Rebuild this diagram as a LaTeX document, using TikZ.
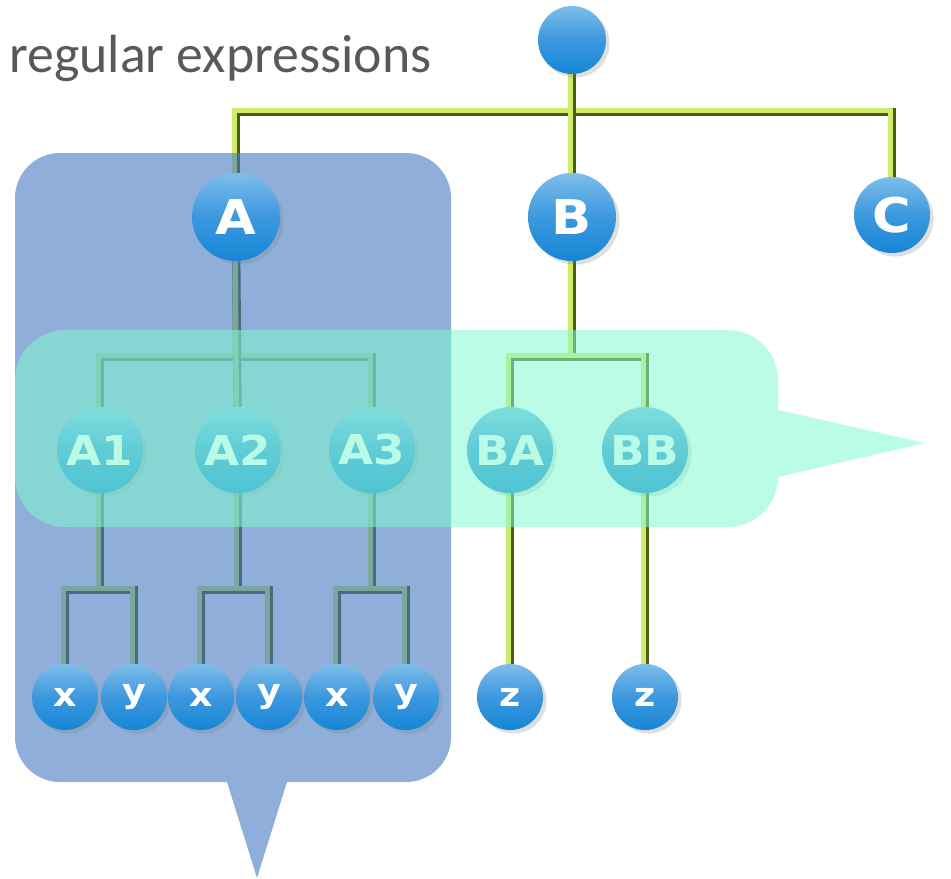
\documentclass[tikz,border=0pt]{standalone}
\usepackage{fontspec}
\setsansfont{Carlito}
\newfontfamily\ballfont{DejaVu Sans}[FakeStretch=1.1]
\usepackage{tikz}
\usetikzlibrary{shadows}
\definecolor{ballhi}{RGB}{125,190,234}
\definecolor{ballmid}{RGB}{60,152,222}
\definecolor{balllo}{RGB}{22,134,214}
\definecolor{wirelime}{RGB}{205,236,105}
\definecolor{wiredark}{RGB}{78,92,24}
\definecolor{boxblue}{RGB}{68,120,193}
\definecolor{boxteal}{RGB}{128,249,208}
\definecolor{caption}{RGB}{89,89,89}
\pgfdeclarelayer{wires}
\pgfdeclarelayer{panel}
\pgfsetlayers{wires,panel,main}

\begin{document}
\begin{tikzpicture}[x=0.01cm, y=-0.01cm,
    ball/.style={circle, inner sep=0pt, top color=ballhi, bottom color=balllo, middle color=ballmid, text=white,
      drop shadow={shadow xshift=1pt, shadow yshift=-1pt, opacity=0.25}},
    bigball/.style={ball, minimum size=8.8mm, font=\ballfont\bfseries\fontsize{13.6}{14}\selectfont},
    midball/.style={ball, minimum size=8.6mm, font=\ballfont\bfseries\fontsize{11.7}{12}\selectfont},
    leafball/.style={ball, minimum size=6.6mm, font=\ballfont\bfseries\fontsize{9.4}{10}\selectfont},
    wire/.style={draw=wiredark, line width=2.3pt,
      postaction={draw=wirelime, line width=1.5pt, transform canvas={xshift=-0.35pt, yshift=0.35pt}}}]
  \useasboundingbox (0,0) rectangle (951,878);
  \node[anchor=base west, text=caption, font=\sffamily\fontsize{15.3}{18}\selectfont] (title) at (-3,72) {regular expressions};
  % tree
  \node[ball, minimum size=6.8mm] (top) at (572,40) {};
  \node[bigball] (A) at (236,217) {A};
  \node[bigball] (B) at (572,217) {B};
  \node[bigball, minimum size=7.6mm] (C) at (892,215) {C};
  \node[midball] (A1) at (100,450) {A1};
  \node[midball] (A2) at (238,450) {A2};
  \node[midball] (A3) at (372,450) {A3};
  \node[midball] (BA) at (510,450) {BA};
  \node[midball] (BB) at (645,450) {BB};
  \node[leafball] (x1) at (65,697) {x};
  \node[leafball] (y1) at (134,697) {y};
  \node[leafball] (x2) at (201,697) {x};
  \node[leafball] (y2) at (269,697) {y};
  \node[leafball] (x3) at (337,697) {x};
  \node[leafball] (y3) at (406,697) {y};
  \node[leafball] (z1) at (510,697) {z};
  \node[leafball] (z2) at (645,697) {z};
  \begin{pgfonlayer}{wires}
    \foreach \p/\c/\d in {top/A/72, top/C/72, A/A1/140, A/A3/140, B/BA/140, B/BB/140,
        A1/x1/140, A1/y1/140, A2/x2/140, A2/y2/140, A3/x3/140, A3/y3/140}{\draw[wire] (\p.center) -- ++(0,\d) -| (\c.center);}
    \foreach \p/\c in {top/B, A/A2, BA/z1, BB/z2}{\draw[wire] (\p.center) -- (\c.center);}
  \end{pgfonlayer}
  % callouts
  \begin{pgfonlayer}{panel}
    \fill[boxblue, fill opacity=0.6] (15,400) [rounded corners=4.5mm] -- (15,153) -- (451,153) -- (451,782) [sharp corners] -- (287,782) -- (257,878) -- (227,782) [rounded corners=4.5mm] -- (15,782) -- cycle;
  \end{pgfonlayer}
  \fill[boxteal, fill opacity=0.54] (15,430) [rounded corners=5mm] -- (15,330) -- (778,330) [sharp corners] -- (778,410) -- (925,443) -- (778,477) [rounded corners=5mm] -- (778,527) -- (15,527) -- cycle;
\end{tikzpicture}
\end{document}
